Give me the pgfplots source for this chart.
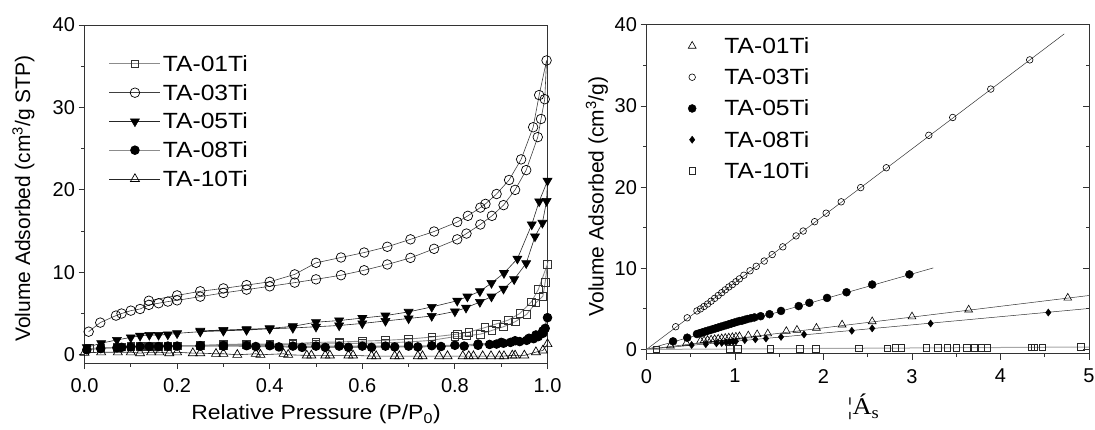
\documentclass[border=0pt]{standalone}
\usepackage{fontspec}
\setmainfont{Liberation Sans}[FakeStretch=1.12]
\newfontfamily\plainfont{Liberation Sans}
\newfontfamily\serifA{Liberation Serif}[FakeStretch=1.1]
\usepackage{pgfplots}
\pgfplotsset{compat=1.18}
\pgfplotsset{
  myaxis/.style={
    scale only axis, clip=false,
    /pgf/number format/assume math mode=true,
    tick label style={font=\plainfont\fontsize{20}{24}\selectfont},
    xticklabel style={yshift=-6pt},
    axis line style={line width=1pt, black!80},
    major tick style={line width=1pt, black!80},
    minor tick style={line width=1pt, black!80},
    major tick length=6pt, minor tick length=3.5pt,
    tick align=outside,
    xtick pos=bottom, ytick pos=left,
  },
  lstyle/.style={line width=0.6pt, black!75},
  gstyle/.style={line width=0.9pt, black!45},
}
\begin{document}
\begin{tikzpicture}
\useasboundingbox (0pt,0pt) rectangle (1095pt,429pt);
% ---------------- left ----------------
\begin{axis}[myaxis,
  at={(84.5pt,66pt)}, anchor=south west,
  width=463pt, height=338pt,
  xmin=0, xmax=1, ymin=-1, ymax=40,
  xtick={0,0.2,0.4,0.6,0.8,1.0},
  xticklabels={0.0,0.2,0.4,0.6,0.8,1.0},
  minor xtick={0.1,0.3,0.5,0.7,0.9},
  ytick={0,10,20,30,40}, minor ytick={5,15,25,35},
  xlabel={Relative Pressure (P/P\textsubscript{0})},
  ylabel={Volume Adsorbed (cm\textsuperscript{3}/g STP)},
  xlabel style={font=\fontsize{20.5}{25}\selectfont, at={(rel axis cs:0.5,-0.1686)}, anchor=base},
  ylabel style={font=\plainfont\fontsize{21}{25}\selectfont, at={(rel axis cs:-0.1318,0.487)}, anchor=center},
  legend style={draw=none, fill=none, inner sep=0pt, outer sep=0pt,
    at={(0.0529,0.907)}, anchor=north west,
    font=\fontsize{22}{26}\selectfont,
    nodes={inner sep=0pt, text height=15pt, text depth=0pt},
    cells={anchor=west},
    row sep=13.75pt, column sep=2pt},
  legend image code/.code={\draw[mark repeat=2,mark phase=2,#1] plot coordinates {(0pt,0pt) (25.5pt,0pt) (51pt,0pt)};},
]
% TA-01Ti
\addplot[gstyle, mark=square, mark size=3.8pt, mark options={black!80, solid, line width=0.7pt, fill=white}] coordinates {
(0.01,0.75)(0.035,0.85)(0.07,0.9)(0.08,0.95)(0.10,1.0)(0.12,1.0)(0.14,1.05)(0.16,1.05)(0.18,1.05)(0.20,1.1)
(0.25,1.1)(0.30,1.15)(0.35,1.2)(0.40,1.2)(0.45,1.25)(0.50,1.3)(0.55,1.35)(0.60,1.4)(0.65,1.45)(0.70,1.55)
(0.75,1.75)(0.80,2.2)(0.825,2.3)(0.855,2.5)(0.88,2.95)(0.905,3.4)(0.93,4.0)(0.955,4.9)(0.975,6.3)(0.99,7.1)
(0.995,8.8)(1.0,11.0)
(0.98,7.9)(0.965,6.4)(0.94,5.0)(0.915,4.2)(0.89,3.75)(0.865,3.3)(0.83,2.75)(0.805,2.5)(0.75,2.15)(0.70,1.9)
(0.65,1.75)(0.60,1.65)(0.55,1.55)(0.50,1.5)(0.45,1.35)(0.40,1.3)(0.35,1.3)(0.30,1.25)(0.25,1.15)};
\addlegendentry{TA-01Ti}
% TA-03Ti
\addplot[lstyle, mark=o, mark size=4.8pt, mark options={black, solid, line width=0.7pt, fill=white}] coordinates {
(0.009,2.8)(0.034,3.9)(0.068,4.75)(0.08,5.0)(0.10,5.35)(0.12,5.55)(0.139,6.05)(0.16,6.25)(0.18,6.45)(0.20,6.6)
(0.25,7.05)(0.30,7.5)(0.35,7.9)(0.40,8.3)(0.454,8.75)(0.50,9.15)(0.554,9.65)(0.604,10.25)(0.654,10.95)(0.704,11.75)
(0.755,12.85)(0.805,14.0)(0.825,14.7)(0.855,15.8)(0.88,16.85)(0.905,18.15)(0.93,20.0)(0.954,22.4)(0.979,26.4)(0.986,28.6)
(0.994,31.0)(0.998,35.7)
(0.982,31.5)(0.969,27.6)(0.943,23.7)(0.917,21.2)(0.89,19.5)(0.866,18.3)(0.855,17.85)(0.828,16.85)(0.805,16.1)(0.755,14.95)
(0.704,14.0)(0.654,13.1)(0.604,12.4)(0.554,11.8)(0.50,11.15)(0.454,9.75)(0.40,8.85)(0.35,8.45)(0.30,8.05)(0.25,7.7)
(0.20,7.2)(0.139,6.55)};
\addlegendentry{TA-03Ti}
% TA-05Ti
\addplot[lstyle, black!85, mark=triangle*, mark size=5.2pt, mark options={black, solid, rotate=180}] coordinates {
(0.005,0.9)(0.036,1.4)(0.07,1.8)(0.10,2.1)(0.12,2.3)(0.14,2.4)(0.16,2.4)(0.18,2.45)(0.20,2.6)(0.25,2.8)
(0.30,2.9)(0.35,3.0)(0.40,3.15)(0.45,3.25)(0.50,3.4)(0.55,3.55)(0.60,3.8)(0.65,4.1)(0.70,4.4)(0.75,4.7)
(0.80,5.25)(0.824,5.7)(0.854,6.4)(0.879,7.05)(0.905,8.0)(0.928,9.15)(0.954,11.1)(0.973,14.35)(0.989,16.0)(0.998,18.65)
(1.0,21.1)
(0.982,18.6)(0.966,15.8)(0.935,11.65)(0.906,9.9)(0.879,8.7)(0.854,7.7)(0.827,7.05)(0.805,6.55)(0.75,5.8)(0.70,5.2)
(0.65,4.75)(0.60,4.45)(0.55,4.15)(0.50,3.95)(0.45,3.45)(0.40,3.2)(0.35,3.1)(0.30,3.0)(0.25,2.9)};
\addlegendentry{TA-05Ti}
% TA-08Ti
\addplot[gstyle, mark=*, mark size=4.3pt, mark options={black, solid}] coordinates {
(0.005,0.6)(0.035,0.75)(0.07,0.85)(0.08,0.9)(0.10,0.95)(0.12,1.0)(0.14,1.0)(0.16,1.0)(0.18,1.05)(0.20,1.05)
(0.25,1.05)(0.30,1.05)(0.37,1.0)(0.42,0.95)(0.47,0.9)(0.52,0.9)(0.57,0.9)(0.62,0.9)(0.67,0.95)(0.72,0.95)
(0.77,1.0)(0.82,1.05)(0.85,1.15)(0.875,1.25)(0.89,1.3)(0.905,1.4)(0.92,1.5)(0.94,1.6)(0.955,1.75)(0.97,1.95)
(0.98,2.2)(0.99,2.6)(0.995,3.2)(1.0,4.5)
(0.99,2.9)(0.975,2.4)(0.96,2.0)(0.93,1.7)(0.90,1.5)(0.85,1.3)(0.80,1.15)(0.75,1.1)(0.70,1.05)(0.65,1.05)
(0.60,1.05)(0.55,1.05)(0.50,1.05)(0.45,1.05)(0.40,1.1)(0.35,1.1)(0.30,1.1)(0.25,1.1)};
\addlegendentry{TA-08Ti}
% TA-10Ti
\addplot[lstyle, black!85, mark=triangle, mark size=5.2pt, mark options={black, solid, line width=0.7pt, fill=white}] coordinates {
(0.0,0.24)(0.036,0.3)(0.072,0.3)(0.10,0.3)(0.12,0.2)(0.144,0.3)(0.162,0.3)(0.183,0.2)(0.20,0.3)(0.234,0.2)
(0.25,0.2)(0.284,0.12)(0.30,0.12)(0.33,0.0)(0.37,0.12)(0.38,0.0)(0.43,0.12)(0.44,0.0)(0.48,-0.08)(0.49,-0.08)
(0.52,-0.08)(0.53,-0.08)(0.57,-0.08)(0.58,-0.08)(0.62,-0.16)(0.63,-0.16)(0.67,-0.16)(0.68,-0.16)(0.72,-0.16)(0.73,-0.16)
(0.766,-0.16)(0.784,-0.16)(0.817,-0.16)(0.83,-0.16)(0.84,-0.16)(0.86,-0.16)(0.878,-0.16)(0.896,-0.16)(0.906,-0.16)(0.924,-0.08)
(0.93,-0.08)(0.95,-0.08)(0.975,0.32)(0.99,0.52)(1.0,1.3)};
\addlegendentry{TA-10Ti}
\end{axis}
% ---------------- right ----------------
\begin{axis}[myaxis,
  at={(646.5pt,75.5pt)}, anchor=south west,
  width=442.5pt, height=328.5pt,
  xmin=0, xmax=5, ymin=-0.5, ymax=40,
  xtick={0,1,2,3,4,5}, minor xtick={0.5,1.5,2.5,3.5,4.5},
  ytick={0,10,20,30,40}, minor ytick={5,15,25,35},
  xlabel={{\serifA ¦Á\textsubscript{s}}},
  ylabel={Volume Adsorbed (cm\textsuperscript{3}/g)},
  xlabel style={font=\fontsize{24}{28}\selectfont, at={(rel axis cs:0.49,-0.187)}, anchor=base},
  ylabel style={font=\plainfont\fontsize{21}{25}\selectfont, at={(rel axis cs:-0.1119,0.478)}, anchor=center},
  legend style={draw=none, fill=none, inner sep=0pt, outer sep=0pt,
    at={(0.0847,0.959)}, anchor=north west,
    font=\fontsize{22}{26}\selectfont,
    nodes={inner sep=0pt, text height=15pt, text depth=0pt},
    cells={anchor=west},
    row sep=16.25pt, column sep=24pt},
  legend image code/.code={\path (0pt,0pt) (16pt,0pt); \draw[#1] plot coordinates {(8pt,0pt)};},
]
% fit lines
\addplot[line width=0.5pt, black!80, forget plot] coordinates {(0,0)(5,6.65)};
\addplot[line width=0.5pt, black!80, forget plot] coordinates {(0,0)(4.72,38.9)};
\addplot[line width=0.5pt, black!80, forget plot] coordinates {(0,0)(3.24,10.05)};
\addplot[line width=0.5pt, black!80, forget plot] coordinates {(0,0)(5,5.05)};
\addplot[line width=1pt, black!35, forget plot] coordinates {(0,0)(5,0.3)};
% TA-01Ti
\addplot[only marks, mark=triangle, mark size=4.5pt, mark options={black, line width=0.6pt, fill=white}] coordinates {
(0.27,0.45)(0.45,0.75)(0.61,1.05)(0.65,1.1)(0.69,1.15)(0.73,1.2)(0.77,1.25)(0.81,1.3)(0.85,1.35)(0.89,1.4)
(0.93,1.45)(0.97,1.5)(1.01,1.55)(1.05,1.6)(1.15,1.7)(1.25,1.85)(1.37,1.95)(1.58,2.25)(1.70,2.4)(1.92,2.65)
(2.21,3.05)(2.55,3.45)(3.0,4.05)(3.64,4.9)(4.76,6.35)};
\addlegendentry{TA-01Ti}
% TA-03Ti
\addplot[only marks, mark=o, mark size=3.3pt, mark options={black, line width=0.6pt, fill=white}] coordinates {
(0.33,2.8)(0.46,3.9)(0.57,4.75)(0.61,5.0)(0.65,5.3)(0.69,5.6)(0.73,5.95)(0.77,6.3)(0.81,6.65)(0.85,7.0)
(0.89,7.35)(0.93,7.7)(0.97,8.0)(1.01,8.35)(1.05,8.7)(1.10,9.15)(1.17,9.7)(1.24,10.25)(1.33,10.9)(1.42,11.7)
(1.54,12.65)(1.69,14.0)(1.77,14.6)(1.90,15.75)(2.03,16.8)(2.20,18.2)(2.42,19.95)(2.71,22.4)(3.19,26.4)(3.46,28.6)
(3.89,32.1)(4.33,35.7)};
\addlegendentry{TA-03Ti}
% TA-05Ti
\addplot[only marks, mark=*, mark size=4pt, mark options={black}] coordinates {
(0.30,1.0)(0.46,1.45)(0.57,1.9)(0.60,2.0)(0.63,2.1)(0.66,2.2)(0.69,2.3)(0.72,2.4)(0.75,2.5)(0.78,2.6)
(0.81,2.7)(0.84,2.8)(0.87,2.9)(0.90,3.0)(0.93,3.1)(0.96,3.2)(0.99,3.3)(1.02,3.4)(1.05,3.5)(1.08,3.55)
(1.11,3.65)(1.14,3.75)(1.18,3.85)(1.22,3.95)(1.29,4.1)(1.39,4.35)(1.52,4.75)(1.72,5.35)(1.84,5.75)(2.04,6.35)
(2.26,7.05)(2.55,8.0)(2.97,9.25)};
\addlegendentry{TA-05Ti}
% TA-08Ti
\addplot[only marks, mark=diamond*, mark size=3.6pt, mark options={black}] coordinates {
(0.51,0.55)(0.67,0.65)(0.79,0.75)(0.85,0.8)(0.90,0.85)(0.94,0.9)(0.98,0.95)(1.01,1.0)(1.11,1.15)(1.23,1.25)
(1.35,1.35)(1.52,1.55)(1.78,1.85)(2.32,2.3)(2.55,2.6)(3.21,3.2)(4.54,4.55)};
\addlegendentry{TA-08Ti}
% TA-10Ti
\addplot[only marks, mark=square, mark size=3.3pt, mark options={black!85, line width=0.6pt, fill=white}] coordinates {
(0.11,0.04)(0.94,0.05)(1.03,0.06)(1.40,0.08)(1.73,0.1)(1.91,0.11)(2.40,0.14)(2.72,0.16)(2.81,0.17)(2.88,0.17)
(3.16,0.19)(3.29,0.2)(3.40,0.2)(3.50,0.21)(3.62,0.22)(3.71,0.22)(3.78,0.23)(3.85,0.23)(4.35,0.26)(4.38,0.26)
(4.47,0.27)(4.91,0.3)};
\addlegendentry{TA-10Ti}
\end{axis}
% inward mirror ticks on the right spine of the right axis
\begin{axis}[scale only axis,
  at={(646.5pt,75.5pt)}, anchor=south west,
  width=442.5pt, height=328.5pt,
  xmin=0, xmax=5, ymin=-0.5, ymax=40,
  axis line style={draw=none},
  xtick=\empty, ytick={0,10,20,30,40}, minor ytick={5,15,25,35},
  ytick pos=right, yticklabels={},
  tick align=inside,
  major tick style={line width=1pt, black!80},
  minor tick style={line width=1pt, black!80},
  major tick length=6pt, minor tick length=3.5pt,
]
\end{axis}
\end{tikzpicture}
\end{document}
